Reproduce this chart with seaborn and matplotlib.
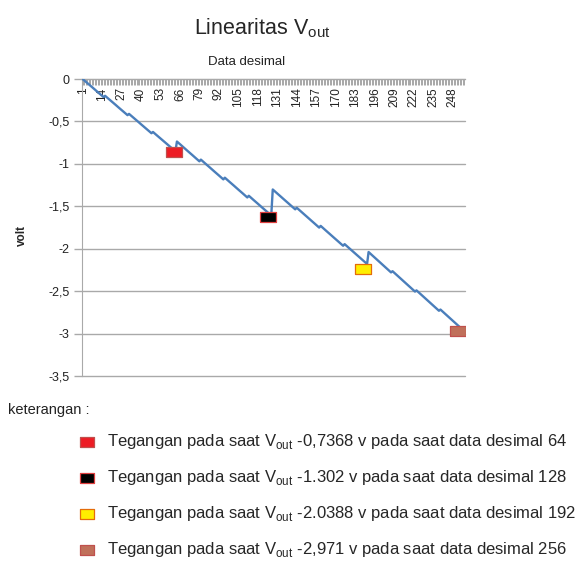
import numpy as np
import pandas as pd
import matplotlib
matplotlib.use("Agg")
import matplotlib.pyplot as plt
import seaborn as sns

# DATA

data_desimal = list(range(1, 257))

vout = [
    # 1 - 63
    0.000, -0.015, -0.030, -0.046, -0.061, -0.076, -0.091, -0.106, -0.122, -0.137,
    -0.152, -0.167, -0.182, -0.198, -0.213, -0.198, -0.213, -0.228, -0.244, -0.259,
    -0.274, -0.289, -0.304, -0.320, -0.335, -0.350, -0.365, -0.380, -0.396, -0.411,
    -0.426, -0.411, -0.426, -0.442, -0.457, -0.472, -0.487, -0.502, -0.518, -0.533,
    -0.548, -0.563, -0.578, -0.594, -0.609, -0.624, -0.639, -0.624, -0.640, -0.655,
    -0.670, -0.685, -0.700, -0.716, -0.731, -0.746, -0.761, -0.776, -0.792, -0.807,
    -0.822, -0.837, -0.852,
    # 64 - 127
    -0.737, -0.752, -0.768, -0.783, -0.799, -0.815, -0.830, -0.846, -0.861, -0.877,
    -0.892, -0.908, -0.923, -0.939, -0.954, -0.970, -0.950, -0.966, -0.981, -0.997,
    -1.012, -1.028, -1.043, -1.059, -1.074, -1.090, -1.105, -1.121, -1.136, -1.152,
    -1.167, -1.183, -1.163, -1.179, -1.194, -1.210, -1.225, -1.241, -1.256, -1.272,
    -1.287, -1.303, -1.318, -1.334, -1.349, -1.365, -1.380, -1.396, -1.376, -1.392,
    -1.407, -1.423, -1.438, -1.454, -1.469, -1.485, -1.500, -1.516, -1.531, -1.547,
    -1.562, -1.578, -1.593, -1.609,
    # 128 - 191
    -1.302, -1.318, -1.333, -1.349, -1.364, -1.380, -1.396, -1.411, -1.427, -1.442,
    -1.458, -1.474, -1.489, -1.505, -1.520, -1.536, -1.517, -1.532, -1.548, -1.564,
    -1.579, -1.595, -1.610, -1.626, -1.642, -1.657, -1.673, -1.688, -1.704, -1.720,
    -1.735, -1.751, -1.731, -1.747, -1.763, -1.778, -1.794, -1.809, -1.825, -1.841,
    -1.856, -1.872, -1.887, -1.903, -1.919, -1.934, -1.950, -1.965, -1.946, -1.962,
    -1.977, -1.993, -2.008, -2.024, -2.040, -2.055, -2.071, -2.086, -2.102, -2.118,
    -2.133, -2.149, -2.164, -2.180,
    # 192 - 256
    -2.039, -2.055, -2.071, -2.087, -2.103, -2.119, -2.135, -2.151, -2.167, -2.183,
    -2.199, -2.215, -2.231, -2.247, -2.263, -2.279, -2.265, -2.281, -2.297, -2.313,
    -2.329, -2.345, -2.361, -2.377, -2.393, -2.409, -2.425, -2.441, -2.457, -2.473,
    -2.489, -2.505, -2.491, -2.507, -2.523, -2.539, -2.555, -2.571, -2.587, -2.603,
    -2.619, -2.635, -2.651, -2.667, -2.683, -2.699, -2.715, -2.731, -2.717, -2.733,
    -2.749, -2.765, -2.781, -2.797, -2.813, -2.829, -2.845, -2.861, -2.877, -2.893,
    -2.909, -2.925, -2.941, -2.957, -2.971,
]

# highlighted points (boxes on the chart)
mark_x = [62, 125, 188, 252]
mark_y = [-0.86, -1.63, -2.24, -2.97]
mark_fill = ["#ed1c24", "#000000", "#ffee00", "#c0705a"]
mark_edge = ["#c0504d", "#e04040", "#e46c0a", "#c0504d"]
mark_labels = [
    r"Tegangan pada saat V$_{\mathregular{out}}$ -0,7368 v pada saat data desimal 64",
    r"Tegangan pada saat V$_{\mathregular{out}}$ -1.302 v pada saat data desimal 128",
    r"Tegangan pada saat V$_{\mathregular{out}}$ -2.0388 v pada saat data desimal 192",
    r"Tegangan pada saat V$_{\mathregular{out}}$ -2,971 v pada saat data desimal 256",
]

xtick_labels = ["1", "14", "27", "40", "53", "66", "79", "92", "105", "118", "131",
                "144", "157", "170", "183", "196", "209", "222", "235", "248"]
ytick_values = [0, -0.5, -1, -1.5, -2, -2.5, -3, -3.5]
ytick_labels = ["0", "-0,5", "-1", "-1,5", "-2", "-2,5", "-3", "-3,5"]

df = pd.DataFrame({"data_desimal": data_desimal, "vout": vout})

# PLOT

sns.set_style("white")
plt.rcParams["font.family"] = ["Liberation Sans", "DejaVu Sans"]
plt.rcParams["mathtext.fontset"] = "custom"
plt.rcParams["mathtext.rm"] = "Liberation Sans"

fig = plt.figure(figsize=(5.84, 5.61), dpi=100)
ax = fig.add_axes([82 / 584, 1 - 376 / 561, 383 / 584, 297 / 561])

grid_col = "#a9a9a9"

sns.lineplot(data=df, x="data_desimal", y="vout", ax=ax,
             color="#4a7ebb", linewidth=1.7, zorder=3)

box = [(-1.5, -1), (1.5, -1), (1.5, 1), (-1.5, 1), (-1.5, -1)]
for i in range(len(mark_x)):
    ax.scatter(mark_x[i], mark_y[i], marker=box, s=125, color=mark_fill[i],
               edgecolor=mark_edge[i], linewidth=0.9, zorder=4,
               label=mark_labels[i])

ax.set_xlim(0.6, 256.4)
ax.set_ylim(-3.5, 0)

# y axis
ax.set_yticks(ytick_values)
ax.set_yticklabels(ytick_labels, fontsize=9, color="#222222")
ax.yaxis.grid(True, color=grid_col, linewidth=1)
for gl in ax.yaxis.get_gridlines():
    gl.set_clip_on(False)
ax.tick_params(axis="y", left=True, length=6, width=1, color=grid_col, pad=3)

# x axis sits at 0 (top), labels fall inside the plot
ax.spines["bottom"].set_position(("data", 0))
ax.spines["bottom"].set_color(grid_col)
ax.spines["left"].set_color(grid_col)
ax.spines["top"].set_visible(False)
ax.spines["right"].set_visible(False)
ax.set_xticks([int(t) for t in xtick_labels])
ax.set_xticklabels(xtick_labels, rotation=90, fontsize=8.5, color="#222222")
ax.set_xticks(data_desimal, minor=True)
ax.tick_params(axis="x", which="both", bottom=True, length=4, width=0.6,
               color="#999999", pad=2)
ax.set_xlabel("")
ax.set_ylabel("")

fig.text(262 / 584, 1 - 28 / 561, r"Linearitas V$_{\mathregular{out}}$",
         ha="center", va="center", fontsize=15.5)
fig.text(247 / 584, 1 - 62 / 561, "Data desimal", ha="center", va="center",
         fontsize=9.5, color="#222222")
fig.text(22 / 584, 1 - 235 / 561, "volt", rotation=90, ha="center",
         va="center", fontsize=8.5, fontweight="bold")
fig.text(8 / 584, 1 - 410 / 561, "keterangan :", ha="left", va="center",
         fontsize=10.5, color="#222222")

fig.legend(loc="upper left", bbox_to_anchor=(77 / 584, 1 - 432 / 561),
           frameon=False, fontsize=12, labelspacing=1.02,
           handletextpad=0.6, handlelength=1.2, borderaxespad=0,
           borderpad=0, markerscale=0.9)

fig.savefig("out.png", dpi=100)
